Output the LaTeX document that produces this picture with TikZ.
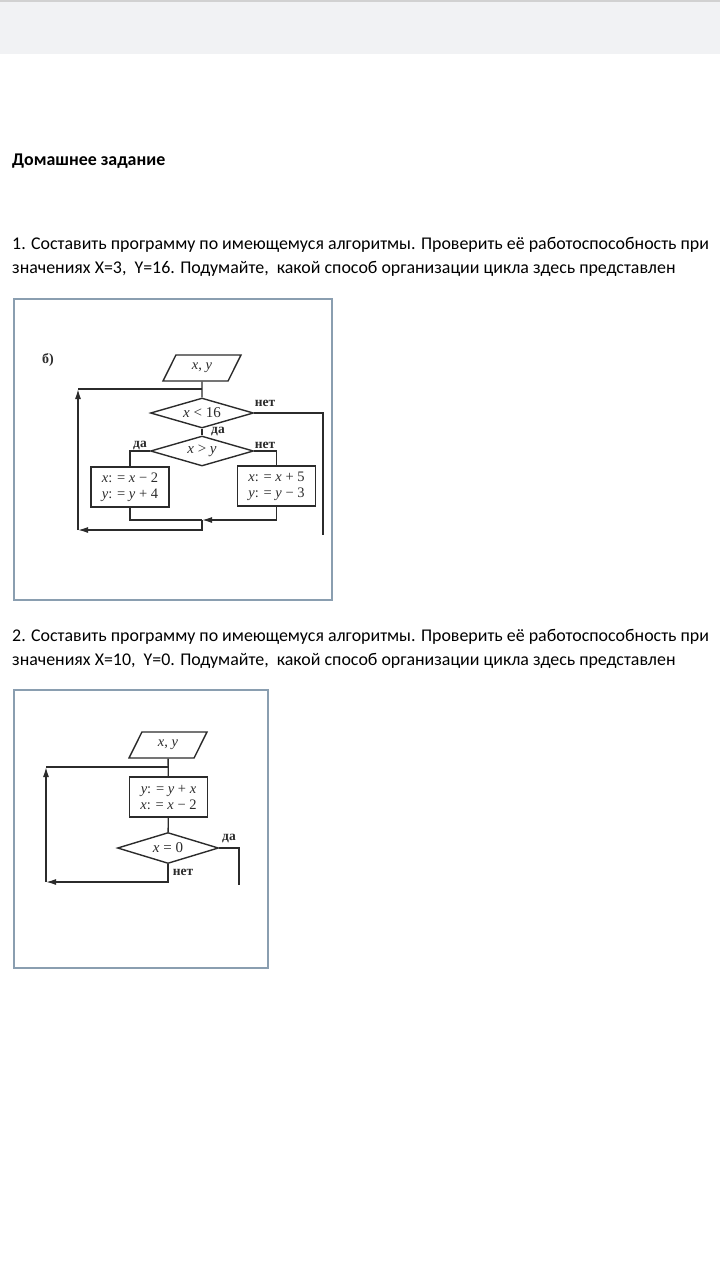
\documentclass[tikz,border=0pt]{standalone}
\usepackage{fontspec}
\setmainfont{Carlito}
\newfontfamily\scanfont{Liberation Serif}
\usepackage{tikz}
\usetikzlibrary{shapes.geometric, arrows.meta, positioning}
\definecolor{bargray}{HTML}{F1F2F4}
\definecolor{framegray}{HTML}{8A9EB0}
\definecolor{inkgray}{HTML}{2B2B2B}
\newcommand{\iv}[1]{\textit{#1}}

\begin{document}
\begin{tikzpicture}[x=1pt, y=-1pt, font=\fontsize{17.9}{21}\selectfont,
	line/.style={draw=inkgray, line width=1.4pt},
	arr/.style={line, -{Latex[length=10pt, width=6pt]}},
	io/.style={line, trapezium, trapezium left angle=63, trapezium right angle=117, trapezium stretches=true, minimum width=78pt, minimum height=26pt, inner sep=0pt, text=inkgray, font=\scanfont\fontsize{14.5}{16}\selectfont},
	cond/.style={line, diamond, aspect=3.4, minimum width=103pt, minimum height=30pt, inner sep=0pt, text=inkgray, font=\scanfont\fontsize{15}{16}\selectfont},
	proc/.style={line, rectangle, minimum width=78pt, minimum height=40pt, inner sep=0pt, align=center, text=inkgray, font=\scanfont\fontsize{14.5}{16}\selectfont},
	lbl/.style={text=inkgray, font=\scanfont\bfseries\fontsize{13.5}{15}\selectfont, inner sep=0pt}]
	\useasboundingbox (0,0) rectangle (720,1280);
	\fill[bargray] (0,0) rectangle (720,54);
	\fill[black!18] (0,0) rectangle (720,2);
	% text of the page
	\node[anchor=base west, inner sep=0pt, font=\bfseries\fontsize{17.9}{21}\selectfont] (title) at (12,165) {Домашнее задание};
	\node[anchor=base west, inner sep=0pt] (q1a) at (12,249) {1. Составить программу по имеющемуся алгоритмы. Проверить её работоспособность при};
	\node[anchor=base west, inner sep=0pt] (q1b) at (12,273) {значениях X=3,\ \ Y=16. Подумайте,\ \ какой способ организации цикла здесь представлен};
	\node[anchor=base west, inner sep=0pt] (q2a) at (12,641) {2. Составить программу по имеющемуся алгоритмы. Проверить её работоспособность при};
	\node[anchor=base west, inner sep=0pt] (q2b) at (12,665) {значениях X=10,\ \ Y=0. Подумайте,\ \ какой способ организации цикла здесь представлен};
	\draw[framegray, line width=1.2pt] (14,299) rectangle (332,600);
	\draw[framegray, line width=1.2pt] (14,690) rectangle (268,968);
	% first algorithm
	\node[lbl, font=\scanfont\bfseries\fontsize{14}{15}\selectfont] (tagb) at (48,360) {б)};
	\node[io] (in1) at (202,368) {\iv{x}, \iv{y}};
	\node[cond] (lt16) at (202,413) {\iv{x} < 16};
	\node[cond] (gtxy) at (202,451) {\iv{x} > \iv{y}};
	\node[proc] (decx) at (130,487) {\iv{x}: = \iv{x} − 2\\\iv{y}: = \iv{y} + 4};
	\node[proc] (incx) at (276.5,486) {\iv{x}: = \iv{x} + 5\\\iv{y}: = \iv{y} − 3};
	\coordinate (join1) at (202,389);
	\coordinate (top1) at (78,389);
	\coordinate (bot1) at (78,530);
	\coordinate (merge1) at (202,520);
	\coordinate (exit1) at (323,535);
	\draw[line] (in1) -- (lt16);
	\draw[line] (lt16) -- (gtxy);
	\draw[line] (lt16.east) -| (exit1);
	\draw[line] (gtxy.west) -| (decx);
	\draw[line] (gtxy.east) -| (incx);
	\draw[line] (decx) |- (merge1);
	\draw[arr] (incx) |- (merge1);
	\draw[arr] (merge1) |- (bot1);
	\draw[arr] (bot1) -- (top1);
	\draw[line] (top1) -- (join1);
	\node[lbl] (no1) at (265,403) {нет};
	\node[lbl] (yes1) at (218,431) {да};
	\node[lbl] (yes2) at (140,445) {да};
	\node[lbl] (no2) at (265,445) {нет};
	% second algorithm
	\node[io] (in2) at (168,745) {\iv{x}, \iv{y}};
	\node[proc] (body2) at (168.5,797) {\iv{y}: = \iv{y} + \iv{x}\\\iv{x}: = \iv{x} − 2};
	\node[cond, minimum width=101pt, minimum height=31pt] (eq0) at (168,848) {\iv{x} = 0};
	\coordinate (join2) at (168,767);
	\coordinate (top2) at (46,767);
	\coordinate (bot2) at (46,882);
	\coordinate (exit2) at (239,885);
	\draw[line] (in2) -- (body2);
	\draw[line] (body2) -- (eq0);
	\draw[line] (eq0.east) -| (exit2);
	\draw[arr] (eq0.south) |- (bot2);
	\draw[arr] (bot2) -- (top2);
	\draw[line] (top2) -- (join2);
	\node[lbl] (yes3) at (229,838) {да};
	\node[lbl] (no3) at (183,872) {нет};
\end{tikzpicture}
\end{document}
